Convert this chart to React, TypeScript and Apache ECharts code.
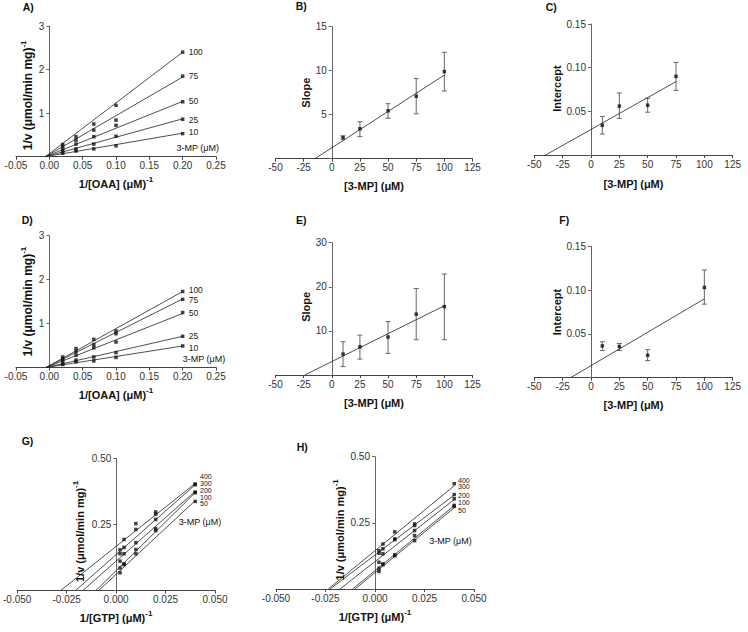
import React, { useEffect, useRef } from "react";
import * as echarts from "echarts";

const FONT = '"Liberation Sans", Arial, Helvetica, sans-serif';

// ---------- Panel A: 1/v vs 1/[OAA] at several 3-MP levels ----------
const oaaInv = [0.02, 0.04, 0.0667, 0.1, 0.2];
const mpLevelsOAA = ["100", "75", "50", "25", "10"];
const aPoints = [
  [0.28, 0.46, 0.75, 1.18, 2.4],
  [0.24, 0.38, 0.61, 0.84, 1.85],
  [0.18, 0.29, 0.46, 0.72, 1.26],
  [0.13, 0.18, 0.29, 0.47, 0.86],
  [0.08, 0.13, 0.18, 0.25, 0.53],
];
const aFitX0 = [-0.006, -0.006, -0.006, -0.006, -0.006];
const aFitEndY = [2.4, 1.83, 1.27, 0.87, 0.54];

// ---------- Panel B: slope replot ----------
const bConc = [10, 25, 50, 75, 100];
const bSlope = [2.4, 3.4, 5.45, 7.1, 9.9];
const bLow = [2.2, 2.5, 4.6, 5.1, 7.7];
const bHigh = [2.6, 4.2, 6.25, 9.1, 12.1];
const bFitX = [-15, 100];
const bFitY = [0, 9.5];

// ---------- Panel C: intercept replot ----------
const cConc = [10, 25, 50, 75];
const cIntercept = [0.034, 0.056, 0.057, 0.09];
const cLow = [0.024, 0.042, 0.049, 0.074];
const cHigh = [0.044, 0.071, 0.065, 0.106];
const cFitX = [-40, 75];
const cFitY = [0, 0.084];

// ---------- Panel D ----------
const dPoints = [
  [0.24, 0.43, 0.64, 0.83, 1.73],
  [0.19, 0.36, 0.52, 0.77, 1.55],
  [0.16, 0.28, 0.45, 0.58, 1.25],
  [0.09, 0.17, 0.24, 0.34, 0.71],
  [0.07, 0.13, 0.15, 0.23, 0.49],
];
const dFitX0 = [-0.005, -0.005, -0.005, -0.005, -0.005];
const dFitEndY = [1.73, 1.56, 1.23, 0.71, 0.49];

// ---------- Panel E ----------
const eConc = [10, 25, 50, 75, 100];
const eSlope = [4.75, 6.4, 8.6, 13.8, 15.5];
const eLow = [1.9, 3.6, 4.9, 8.0, 8.0];
const eHigh = [7.55, 9.05, 12.1, 19.6, 22.9];
const eFitX = [-24, 100];
const eFitY = [0, 15.7];

// ---------- Panel F ----------
const fConc = [10, 25, 50, 100];
const fIntercept = [0.0363, 0.0355, 0.0256, 0.103];
const fLow = [0.031, 0.031, 0.0195, 0.084];
const fHigh = [0.041, 0.039, 0.032, 0.123];
const fFitX = [-18, 100];
const fFitY = [0, 0.09];

// ---------- Panels G, H: 1/v vs 1/[GTP] ----------
const gtpInv = [0.002, 0.004, 0.01, 0.02, 0.04];
const mpLevelsGTP = ["400", "300", "200", "100", "50"];
const gPoints = [
  [0.154, 0.193, 0.253, 0.297, 0.403],
  [0.139, 0.163, 0.231, 0.289, 0.4],
  [0.111, 0.139, 0.181, 0.269, 0.372],
  [0.085, 0.101, 0.155, 0.234, 0.37],
  [0.067, 0.098, 0.139, 0.227, 0.337],
];
const gFitX0 = [-0.028, -0.0205, -0.0168, -0.0102, -0.0088];
const gFitEndY = [0.405, 0.4, 0.375, 0.37, 0.34];

const hPoints = [
  [0.145, 0.17, 0.216, 0.246, 0.398],
  [0.135, 0.152, 0.189, 0.24, 0.357],
  [0.101, 0.133, 0.187, 0.221, 0.341],
  [0.078, 0.095, 0.129, 0.202, 0.316],
  [0.066, 0.092, 0.126, 0.183, 0.312],
];
const hFitX0 = [-0.0236, -0.0227, -0.0177, -0.0113, -0.0101];
const hFitEndY = [0.39, 0.355, 0.338, 0.315, 0.307];

const AXIS = "#444";
const INK = "#111";

function valueFmt(dec: number, hideZero: boolean) {
  return (v: number) => {
    if (Math.abs(v) < 1e-9) return hideZero ? "" : (0).toFixed(dec);
    return v.toFixed(dec);
  };
}

function nameStyle(size: number, padding: number[] = [0, 0, 0, 0]) {
  return {
    fontFamily: FONT,
    color: INK,
    padding,
    rich: {
      m: { fontSize: size, fontWeight: "bold", fontFamily: FONT, color: INK, lineHeight: size + 3, verticalAlign: "bottom" },
      s: { fontSize: 8, fontWeight: "bold", fontFamily: FONT, color: INK, lineHeight: 8, verticalAlign: "top" },
    },
  };
}

type Spec = { min: number; max: number; interval: number; dec: number };

function xAx(i: number, s: Spec, name: string, gap: number) {
  return {
    gridIndex: i, type: "value", min: s.min, max: s.max, interval: s.interval,
    axisLine: { show: true, onZero: true, lineStyle: { color: AXIS, width: 1 } },
    axisTick: { show: true, length: 3, lineStyle: { color: AXIS } },
    axisLabel: { fontSize: 10, color: "#333", fontFamily: FONT, margin: 4, formatter: valueFmt(s.dec, false) },
    splitLine: { show: false },
    name, nameLocation: "middle", nameGap: gap, nameTextStyle: nameStyle(11),
  };
}

// y axis is drawn at x = 0 of the x scale by shifting it into the grid.
// shiftDown moves the rotated name downward along the axis.
function yAx(i: number, s: Spec, name: string, gap: number, size: number, xs: Spec, gridWidth: number, shiftDown: number) {
  const shift = ((0 - xs.min) / (xs.max - xs.min)) * gridWidth;
  const pad = shiftDown >= 0 ? [0, 2 * shiftDown, 0, 0] : [0, 0, 0, -2 * shiftDown];
  return {
    gridIndex: i, type: "value", min: s.min, max: s.max, interval: s.interval,
    position: "left", offset: -shift,
    axisLine: { show: true, onZero: false, lineStyle: { color: "#666", width: 1 } },
    axisTick: { show: true, length: 3, lineStyle: { color: "#666" } },
    axisLabel: { fontSize: 10, color: "#333", fontFamily: FONT, margin: 5, formatter: valueFmt(s.dec, true) },
    splitLine: { show: false },
    name, nameLocation: "middle", nameGap: gap, nameTextStyle: nameStyle(size, pad),
  };
}

function lbSeries(i: number, xs: number[], rows: number[][], x0: number[], endY: number[], labels: string[], endLabels: boolean, labelDy: number[]) {
  const out: any[] = [];
  rows.forEach((row, k) => {
    out.push({
      type: "line", xAxisIndex: i, yAxisIndex: i, silent: true,
      data: [[x0[k], 0], [xs[xs.length - 1], endY[k]]],
      symbol: "none", lineStyle: { color: "#222", width: 0.8 },
      endLabel: endLabels
        ? { show: true, formatter: labels[k], fontSize: 8.5, color: "#222", fontFamily: FONT, distance: 6, offset: [0, labelDy[k]] }
        : { show: false },
      z: 2,
    });
    out.push({
      type: "scatter", xAxisIndex: i, yAxisIndex: i, silent: true,
      data: xs.map((x, j) => [x, row[j]]),
      symbol: "rect", symbolSize: 3.5, itemStyle: { color: INK }, z: 3,
    });
  });
  return out;
}

function replotSeries(i: number, conc: number[], vals: number[], lo: number[], hi: number[], fx: number[], fy: number[]) {
  return [
    {
      type: "custom", xAxisIndex: i, yAxisIndex: i, silent: true, z: 1,
      data: conc.map((c, j) => [c, lo[j], hi[j]]),
      encode: { x: 0, y: [1, 2] },
      renderItem: (params: any, api: any) => {
        const x = api.value(0);
        const a = api.coord([x, api.value(1)]);
        const b = api.coord([x, api.value(2)]);
        const w = 2.5;
        const style = { stroke: "#666", lineWidth: 1 };
        return {
          type: "group",
          children: [
            { type: "line", shape: { x1: a[0], y1: a[1], x2: b[0], y2: b[1] }, style },
            { type: "line", shape: { x1: a[0] - w, y1: a[1], x2: a[0] + w, y2: a[1] }, style },
            { type: "line", shape: { x1: b[0] - w, y1: b[1], x2: b[0] + w, y2: b[1] }, style },
          ],
        };
      },
    },
    {
      type: "line", xAxisIndex: i, yAxisIndex: i, silent: true, z: 2,
      data: [[fx[0], fy[0]], [fx[1], fy[1]]],
      symbol: "none", lineStyle: { color: "#222", width: 0.8 },
    },
    {
      type: "scatter", xAxisIndex: i, yAxisIndex: i, silent: true, z: 3,
      data: conc.map((c, j) => [c, vals[j]]),
      symbol: "rect", symbolSize: 3.5, itemStyle: { color: INK },
    },
  ];
}

const OAA: Spec = { min: -0.05, max: 0.25, interval: 0.05, dec: 2 };
const MP: Spec = { min: -50, max: 125, interval: 25, dec: 0 };
const GTP: Spec = { min: -0.05, max: 0.05, interval: 0.025, dec: 3 };

const X_OAA = "{m|1/[OAA] (μM)}{s|-1}";
const X_MP = "{m|[3-MP] (μM)}";
const X_GTP = "{m|1/[GTP] (μM)}{s|-1}";
const Y_V = "{m|1/v (μmol/min mg)}{s|-1}";
const Y_SLOPE = "{m|Slope}";
const Y_INT = "{m|Intercept}";

function text(t: string, x: number, y: number, size: number, bold: boolean, align: string = "left") {
  return {
    type: "text", x, y, silent: true,
    style: { text: t, fontSize: size, fontWeight: bold ? "bold" : "normal", fontFamily: FONT, fill: "#111", align, verticalAlign: "middle" },
  };
}

function buildOption() {
  const grid = [
    { left: 16, top: 26, width: 200, height: 130.7 },
    { left: 275.5, top: 26.7, width: 197, height: 132 },
    { left: 534.3, top: 24, width: 198.4, height: 131 },
    { left: 16, top: 235.7, width: 200, height: 131.8 },
    { left: 275.5, top: 242.7, width: 197, height: 132.3 },
    { left: 534.3, top: 246.3, width: 198.4, height: 131.4 },
    { left: 16.7, top: 458.3, width: 198.3, height: 132.2 },
    { left: 276, top: 456.7, width: 198, height: 132.3 },
  ];
  const xSpecs = [OAA, MP, MP, OAA, MP, MP, GTP, GTP];
  const xAxis = [
    xAx(0, OAA, X_OAA, 19),
    xAx(1, MP, X_MP, 19),
    xAx(2, MP, X_MP, 20),
    xAx(3, OAA, X_OAA, 19),
    xAx(4, MP, X_MP, 19),
    xAx(5, MP, X_MP, 19),
    xAx(6, GTP, X_GTP, 19),
    xAx(7, GTP, X_GTP, 19),
  ];
  const ySpecs: [Spec, string, number, number, number][] = [
    [{ min: 0, max: 3, interval: 1, dec: 0 }, Y_V, 15, 12, 4],
    [{ min: 0, max: 15, interval: 5, dec: 0 }, Y_SLOPE, 18, 11, 0],
    [{ min: 0, max: 0.15, interval: 0.05, dec: 2 }, Y_INT, 25, 11, -1],
    [{ min: 0, max: 3, interval: 1, dec: 0 }, Y_V, 15, 12, 0],
    [{ min: 0, max: 30, interval: 10, dec: 0 }, Y_SLOPE, 17, 11, -2],
    [{ min: 0, max: 0.15, interval: 0.05, dec: 2 }, Y_INT, 24, 11, 0],
    [{ min: 0, max: 0.5, interval: 0.25, dec: 2 }, Y_V, 31, 11, 7],
    [{ min: 0, max: 0.5, interval: 0.25, dec: 2 }, Y_V, 30, 11, 7],
  ];
  const yAxis = ySpecs.map((y, i) => yAx(i, y[0], y[1], y[2], y[3], xSpecs[i], grid[i].width, y[4]));
  const series = [
    ...lbSeries(0, oaaInv, aPoints, aFitX0, aFitEndY, mpLevelsOAA, true, [0, -1, 0, 1, -1]),
    ...replotSeries(1, bConc, bSlope, bLow, bHigh, bFitX, bFitY),
    ...replotSeries(2, cConc, cIntercept, cLow, cHigh, cFitX, cFitY),
    ...lbSeries(3, oaaInv, dPoints, dFitX0, dFitEndY, mpLevelsOAA, true, [-1, 1, 0, 0, 2]),
    ...replotSeries(4, eConc, eSlope, eLow, eHigh, eFitX, eFitY),
    ...replotSeries(5, fConc, fIntercept, fLow, fHigh, fFitX, fFitY),
    ...lbSeries(6, gtpInv, gPoints, gFitX0, gFitEndY, mpLevelsGTP, false, []),
    ...lbSeries(7, gtpInv, hPoints, hFitX0, hFitEndY, mpLevelsGTP, false, []),
  ];
  const gLabelY = [476, 483.3, 490.3, 497, 503.3];
  const hLabelY = [480, 486.7, 495, 502.3, 510];
  const graphic: any[] = [
    text("A)", 22.7, 7.3, 10.5, true),
    text("B)", 295.7, 5.5, 10.5, true),
    text("C)", 545.7, 7, 10.5, true),
    text("D)", 21.7, 220, 10.5, true),
    text("E)", 296, 220, 10.5, true),
    text("F)", 559.3, 220, 10.5, true),
    text("G)", 21.7, 441.3, 10.5, true),
    text("H)", 296.7, 446.7, 10.5, true),
    text("3-MP (μM)", 197.7, 147.7, 9, false, "center"),
    text("3-MP (μM)", 204, 359, 9, false, "center"),
    text("3-MP (μM)", 200, 521.7, 9, false, "center"),
    text("3-MP (μM)", 450.5, 541, 9, false, "center"),
    ...mpLevelsGTP.map((l, k) => text(l, 200, gLabelY[k], 7, false)),
    ...mpLevelsGTP.map((l, k) => text(l, 458, hLabelY[k], 7, false)),
  ];
  return {
    animation: false,
    backgroundColor: "#ffffff",
    textStyle: { fontFamily: FONT },
    grid,
    xAxis,
    yAxis,
    series,
    graphic,
  };
}

export default function App() {
  const ref = useRef<HTMLDivElement>(null);
  useEffect(() => {
    if (!ref.current) return;
    const chart = echarts.init(ref.current, undefined, { renderer: "svg" });
    chart.setOption(buildOption() as any);
    return () => chart.dispose();
  }, []);
  return (
    <div
      ref={ref}
      style={{ position: "absolute", left: 0, top: 0, width: 748, height: 632, background: "#fff" }}
    />
  );
}
